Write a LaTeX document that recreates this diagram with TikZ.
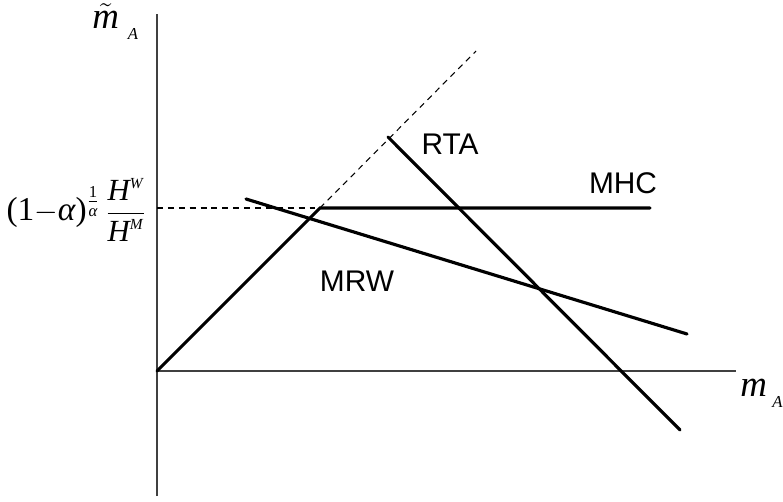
\documentclass[tikz,border=0pt]{standalone}
\usepackage{amsmath}
\usepackage{fontspec}
\setmainfont{Liberation Serif}
\setsansfont{Liberation Sans}
\usetikzlibrary{positioning}

\newcommand{\subA}{\hspace{3pt}\raisebox{-6pt}{\fontsize{9.5}{10}\selectfont\textit{A}}}

\begin{document}
\begin{tikzpicture}[x=0.02cm, y=-0.02cm,
    axis/.style={draw=black!75, line width=0.6pt},
    curve/.style={line width=1.8pt, line cap=round},
    guide/.style={line width=0.6pt, dash pattern=on 3.4pt off 2.8pt},
    lbl/.style={font=\sffamily\fontsize{17}{19}\selectfont, inner sep=0pt},
    mlbl/.style={font=\fontsize{21}{23}\selectfont, inner sep=0pt}]
  \useasboundingbox (0,0) rectangle (783,502);
  % axes
  \coordinate (O) at (157,371);
  \coordinate (ytop) at (157,14);
  \coordinate (ybot) at (157,496);
  \coordinate (xend) at (736,371);
  \draw[axis] (ybot) -- (ytop);
  \draw[axis] (O) -- (xend);
  % curves
  \coordinate (yguide) at (157,208);
  \coordinate (kink) at (320,208);
  \coordinate (diagtop) at (476,51);
  \coordinate (mhcend) at (650,208);
  \coordinate (rtatop) at (388,137);
  \coordinate (rtabot) at (680,430);
  \coordinate (mrwl) at (246,199);
  \coordinate (mrwr) at (687,334);
  \draw[guide] (yguide) -- (kink);
  \draw[guide] (kink) -- (diagtop);
  \draw[curve] (O) -- (kink) -- (mhcend);
  \draw[curve] (rtatop) -- (rtabot);
  \draw[curve] (mrwl) -- (mrwr);
  % labels
  \node[lbl] (rta) at (450,144) {RTA};
  \node[lbl] (mhc) at (623,183) {MHC};
  \node[lbl] (mrw) at (357,281) {MRW};
  \node[inner sep=0pt, font=\fontsize{19}{21}\selectfont, anchor=east] (ylab) at (146,210)
    {$\text{(1}{-}\textit{α}\text{)}^{\frac{\text{1}}{\textit{α}}}\,
      \text{\fontsize{17.5}{19}\selectfont
      $\dfrac{\textit{H}^{\scriptscriptstyle\textit{W}}}{\textit{H}^{\scriptscriptstyle\textit{M}}}$}$};
  \node[mlbl, anchor=base west] (my) at (92,29)
    {$\tilde{\textit{m}}$\hspace{2pt}\subA};
  \node[mlbl, anchor=base west] (mx) at (740,397)
    {\textit{m}\subA};
\end{tikzpicture}
\end{document}
